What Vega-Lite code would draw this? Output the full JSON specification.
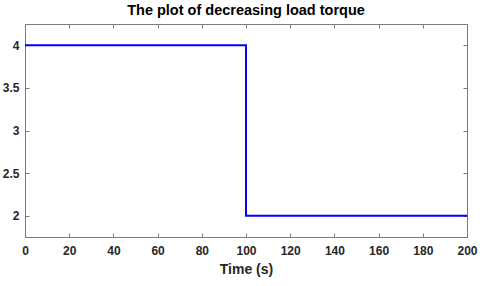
{
  "$schema": "https://vega.github.io/schema/vega-lite/v6.json",
  "width": 442,
  "height": 213,
  "autosize": {"type": "none"},
  "padding": {"left": 25, "top": 24, "right": 13, "bottom": 49},
  "background": "white",
  "config": {
    "view": {"stroke": null},
    "font": "Liberation Sans",
    "axis": {"grid": false, "domain": true, "ticks": true, "domainColor": "#7a7a7a", "tickColor": "#7a7a7a", "labelColor": "#262626", "labelFont": "Liberation Sans", "labelFontWeight": "bold", "labelFontSize": 12, "titleFont": "Liberation Sans"}
  },
  "title": {"text": "The plot of decreasing load torque", "fontSize": 14.5, "fontWeight": "bold", "font": "Liberation Sans", "color": "#000000", "offset": 5, "anchor": "middle"},
  "data": {"values": [
    {"i": 0, "t": 0, "torque": 4},
    {"i": 1, "t": 100, "torque": 4},
    {"i": 2, "t": 100, "torque": 2},
    {"i": 3, "t": 200, "torque": 2}
  ]},
  "layer": [
    {
      "mark": {"type": "line", "color": "#0000FF", "strokeWidth": 2, "clip": true},
      "encoding": {
        "x": {"field": "t", "type": "quantitative", "scale": {"domain": [0, 200], "nice": false, "zero": false},
          "axis": {"orient": "bottom", "values": [0,20,40,60,80,100,120,140,160,180,200], "format": "d", "tickSize": -4, "labelPadding": 12, "title": "Time (s)", "titleFontSize": 14, "titleFontWeight": "bold", "titleColor": "#262626", "titlePadding": 6, "labelFlush": false}},
        "y": {"field": "torque", "type": "quantitative", "scale": {"domain": [1.75, 4.25], "nice": false, "zero": false},
          "axis": {"orient": "left", "values": [2, 2.5, 3, 3.5, 4], "format": "~g", "tickSize": -4, "labelPadding": 10, "title": null, "labelFlush": false}},
        "order": {"field": "i", "type": "quantitative"}
      }
    },
    {
      "mark": {"type": "line", "strokeOpacity": 0},
      "encoding": {
        "x": {"field": "t", "type": "quantitative", "scale": {"domain": [0, 200], "nice": false, "zero": false}, "axis": {"orient": "top", "values": [0,20,40,60,80,100,120,140,160,180,200], "tickSize": -4, "labels": false, "title": null}},
        "y": {"field": "torque", "type": "quantitative", "scale": {"domain": [1.75, 4.25], "nice": false, "zero": false}, "axis": {"orient": "right", "values": [2, 2.5, 3, 3.5, 4], "tickSize": -4, "labels": false, "title": null}},
        "order": {"field": "i", "type": "quantitative"}
      }
    }
  ],
  "resolve": {"axis": {"x": "independent", "y": "independent"}}
}
